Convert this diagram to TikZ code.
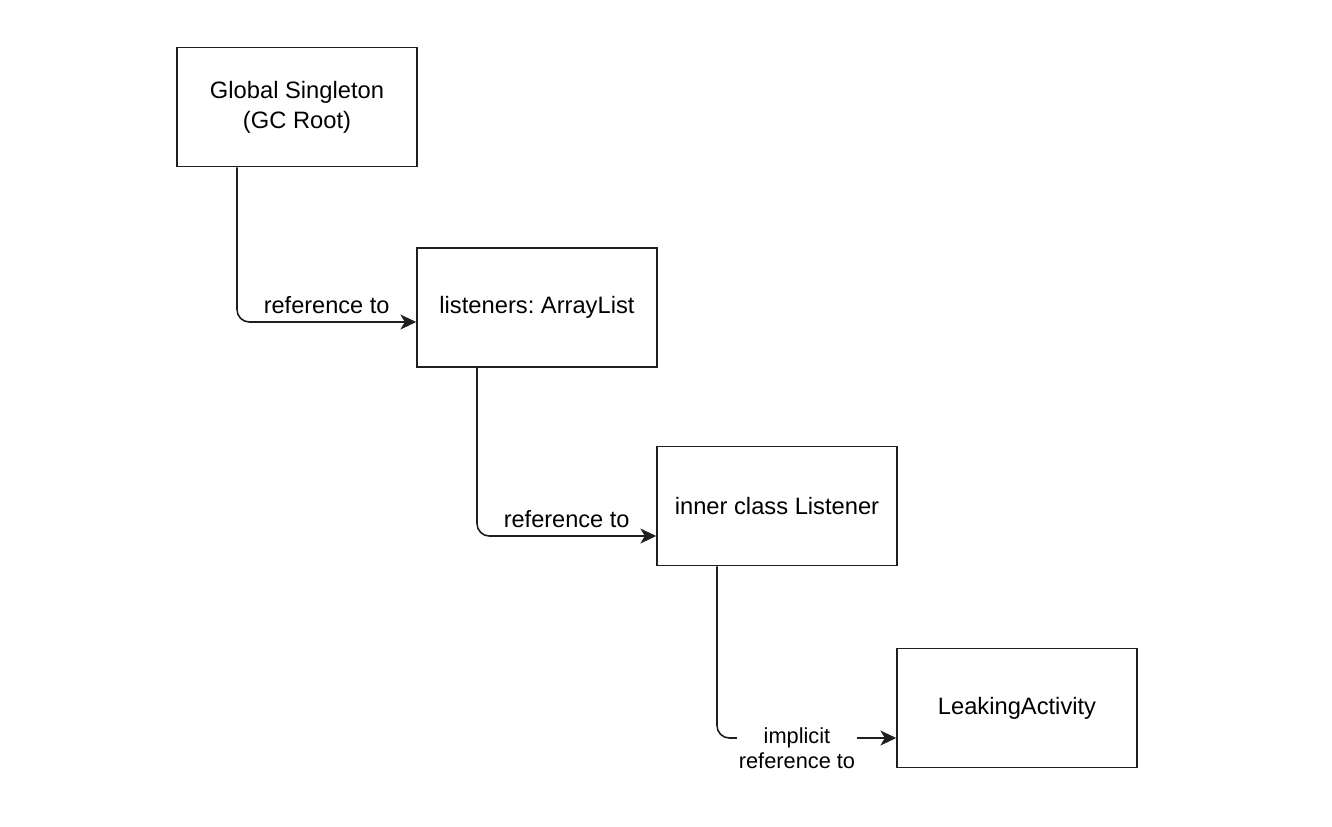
\documentclass[tikz,border=0pt]{standalone}
\usepackage{fontspec}
\setmainfont{Liberation Sans}
\frenchspacing
\usetikzlibrary{arrows.meta}
\definecolor{LineClr}{rgb}{0.12,0.12,0.12}

\begin{document}
\begin{tikzpicture}[x=0.02cm,y=-0.02cm,
  box/.style={draw=LineClr,line width=0.9pt,minimum width=4.8cm,minimum height=2.38cm,
    align=center,font=\fontsize{13.5}{17}\selectfont,inner sep=0pt},
  link/.style={draw=LineClr,line width=0.9pt,rounded corners=7pt,
    -{Stealth[length=9pt,width=8.5pt,inset=2.5pt]}},
  lbl/.style={font=\fontsize{13.4}{16}\selectfont,inner sep=4pt}]
\useasboundingbox (0,0) rectangle (1332,826);

\node[box] (gc) at (297,107) {Global Singleton\\(GC Root)};
\node[box] (list) at (537,307.5) {listeners: ArrayList};
\node[box] (inner) at (777,506) {inner class Listener};
\node[box] (leak) at (1017,708) {LeakingActivity};

\coordinate (c1) at (237,322);
\coordinate (c2) at (477,536);
\coordinate (c3) at (717,738);

\draw[link] (gc.south -| c1) |- (list.west |- c1)
  node[lbl,pos=0.75,above] {reference to};
\draw[link] (list.south -| c2) |- (inner.west |- c2)
  node[lbl,pos=0.75,above] {reference to};
\draw[link] (inner.south -| c3) |- (leak.west |- c3);

\node[fill=white,align=center,inner sep=1pt,font=\fontsize{12.4}{14.2}\selectfont]
  (imp) at (797,748) {implicit\\reference to};

\end{tikzpicture}
\end{document}
